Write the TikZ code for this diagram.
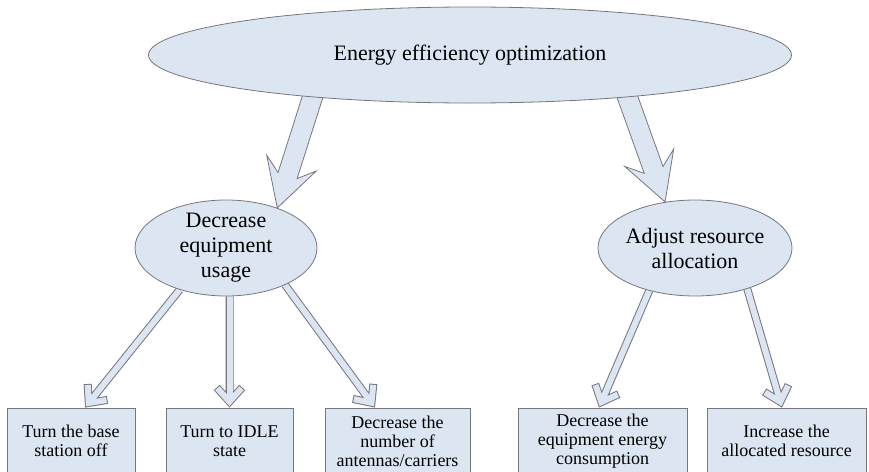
\documentclass[tikz,border=0pt]{standalone}
\usepackage{fontspec}
\setmainfont{Liberation Serif}
\usetikzlibrary{shapes.geometric, calc, backgrounds}

\definecolor{boxblue}{RGB}{220,230,242}
\definecolor{edgegray}{RGB}{118,118,124}

\tikzset{
  bubble/.style={ellipse, draw=edgegray, fill=boxblue, line width=0.8pt, inner sep=0pt},
  bubtext/.style={align=center, font=\fontsize{22}{25}\selectfont},
  leaf/.style={rectangle, draw=edgegray, fill=boxblue, line width=0.8pt, minimum height=66pt, align=center, font=\fontsize{18}{19}\selectfont},
  bigbody/.style={draw=edgegray, fill=boxblue, line width=0.8pt, line join=miter},
}

% hollow arrow: #1 tail, #2 tip
\newcommand{\thinarrow}[2]{%
  \coordinate (tp) at ($(#2)!6pt!(#1)$);
  \draw[line width=8pt, edgegray, line join=miter] (#1) -- (tp) ($(tp)!19pt!42:(#1)$) -- (tp) -- ($(tp)!19pt!-42:(#1)$);
  \draw[line width=6pt, boxblue] (#1) -- (tp);
  \draw[line width=6pt, boxblue, line join=miter, shorten <=1pt, shorten >=1pt] ($(tp)!19pt!42:(#1)$) -- (tp) -- ($(tp)!19pt!-42:(#1)$);
}

% block arrow: #1 tail, #2 tip
\newcommand{\bigarrow}[2]{%
  \draw[bigbody] (#2) -- ($(#2)!47pt!(#1)!26pt!90:(#1)$) -- ($(#2)!34pt!(#1)!10pt!90:(#1)$)
    -- ($(#1)!10pt!-90:(#2)$) -- ($(#1)!10pt!90:(#2)$)
    -- ($(#2)!34pt!(#1)!10pt!-90:(#1)$) -- ($(#2)!47pt!(#1)!26pt!-90:(#1)$) -- cycle;
}

\begin{document}
\begin{tikzpicture}[x=1pt, y=-1pt]
  \useasboundingbox (0,0) rectangle (869,471);
  \clip (0,0) rectangle (869,471);

  % Nodes
  \node[bubble, minimum width=643pt, minimum height=96pt, label={[bubtext]center:Energy efficiency optimization}] (E) at (470,55) {};
  \node[bubble, minimum width=182pt, minimum height=96pt, label={[bubtext]center:Decrease\\equipment\\usage}] (D) at (226,248) {};
  \node[bubble, minimum width=194pt, minimum height=96pt, label={[bubtext]center:Adjust resource\\allocation}] (R) at (695,248) {};

  \node[leaf, minimum width=128pt] (D1) at (71,441) {Turn the base\\station off};
  \node[leaf, minimum width=127pt] (D2) at (229.5,441) {Turn to IDLE\\state};
  \node[leaf, minimum width=145pt] (D3) at (397.5,441) {Decrease the\\number of\\antennas/carriers};
  \node[leaf, minimum width=169pt] (R1) at (602.5,441) {Decrease the\\equipment energy\\consumption};
  \node[leaf, minimum width=159pt] (R2) at (786.5,441) {Increase the\\allocated resource};

  % Arrows
  \coordinate (L0) at ($(E.195)!-14pt!(D.38)$);
  \coordinate (R0) at ($(E.345)!-14pt!(R.123)$);
  \begin{scope}[on background layer]
    \bigarrow{L0}{D.38}
    \bigarrow{R0}{R.123}
    \thinarrow{D.222}{[xshift=14pt]D1.north}
    \thinarrow{D.south -| D2.north}{D2.north}
    \thinarrow{D.-32}{[xshift=-22.5pt]D3.north}
    \thinarrow{R.223}{[xshift=-3.5pt]R1.north}
    \thinarrow{R.-38}{[xshift=-4.5pt]R2.north}
  \end{scope}
\end{tikzpicture}
\end{document}
